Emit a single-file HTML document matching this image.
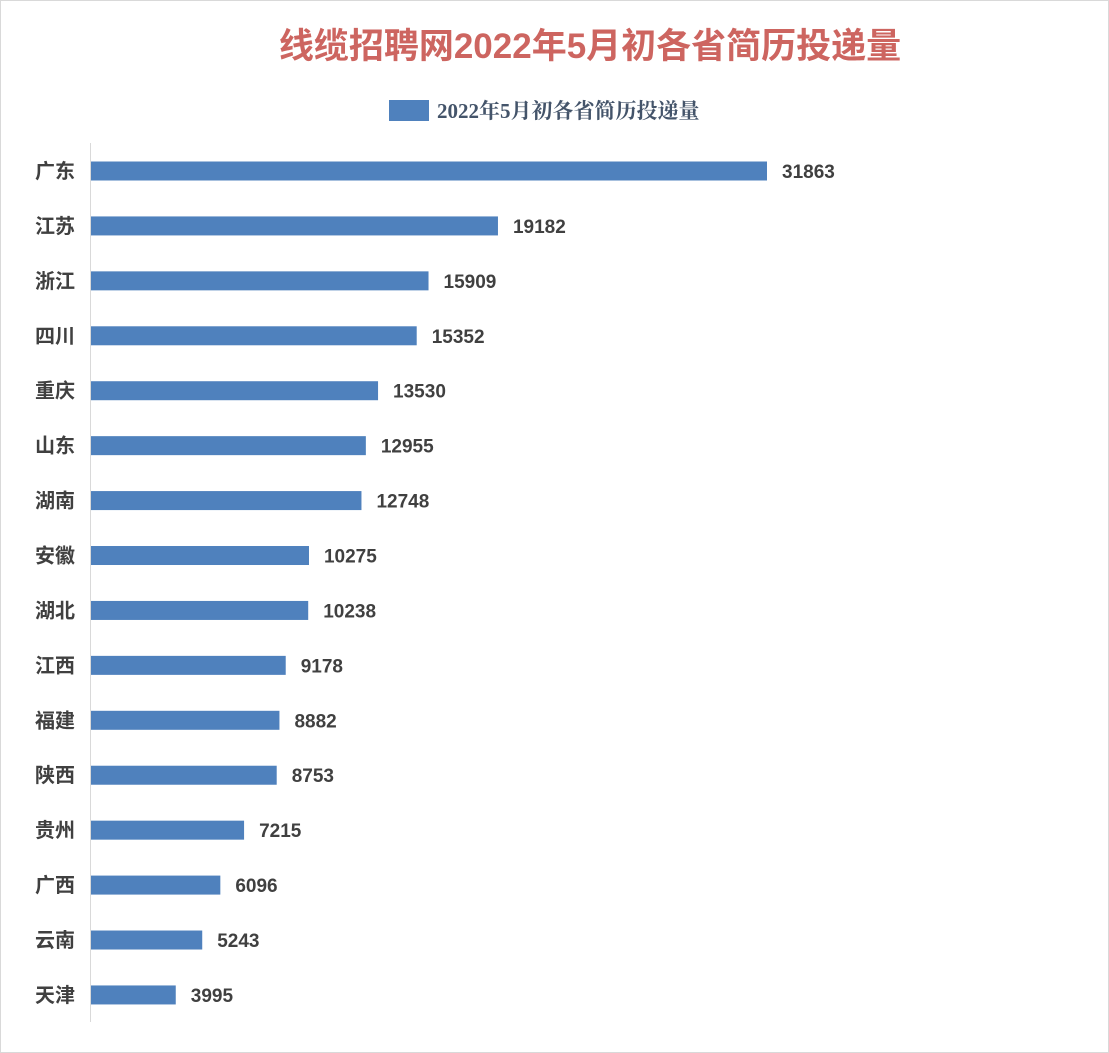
<!DOCTYPE html>
<html><head><meta charset="utf-8">
<style>
body{margin:0;background:#fff;}
#wrap{position:relative;width:1109px;height:1053px;overflow:hidden;background:#fff;}
#frame{position:absolute;left:0;top:0;width:1107px;height:1051px;border:1px solid #d9d9d9;}
#title{position:absolute;left:0;width:1180px;top:18px;text-align:center;font:bold 35px "Liberation Sans","Noto Sans CJK SC",sans-serif;color:#cd6560;}
#legend{position:absolute;left:389px;top:97px;height:26px;display:flex;align-items:center;}
#legend .sw{width:40px;height:21px;background:#4f81bd;margin-right:8px;}
#legend .tx{font:bold 21px "Liberation Serif","Noto Serif CJK SC",serif;color:#44546a;}
</style></head><body>
<div id="wrap">
<div id="frame"></div>
<div id="title">线缆招聘网2022年5月初各省简历投递量</div>
<div id="legend"><div class="sw"></div><div class="tx">2022年5月初各省简历投递量</div></div>
<svg id="plot" width="1109" height="1053" style="position:absolute;left:0;top:0"></svg>
</div>
<script>
const categories=["广东","江苏","浙江","四川","重庆","山东","湖南","安徽","湖北","江西","福建","陕西","贵州","广西","云南","天津"];
const values=[31863,19182,15909,15352,13530,12955,12748,10275,10238,9178,8882,8753,7215,6096,5243,3995];
const NS="http://www.w3.org/2000/svg";
const svg=document.getElementById('plot');
const x0=91, pxPer=676/31863, y0=171, step=54.93, bh=19;
const xScale=v=>x0+v*pxPer;
const yScale=i=>y0+i*step;
const axis=document.createElementNS(NS,'line');


axis.setAttribute('x1',90.5);axis.setAttribute('x2',90.5);axis.setAttribute('y1',143);axis.setAttribute('y2',1022);
axis.setAttribute('stroke','#d9d9d9');axis.setAttribute('stroke-width','1');
svg.appendChild(axis);
categories.forEach((c,i)=>{
  const cy=yScale(i);
  const r=document.createElementNS(NS,'rect');
  
  
  r.setAttribute('x',x0);r.setAttribute('y',cy-bh/2);
  r.setAttribute('width',xScale(values[i])-x0);r.setAttribute('height',bh);
  r.setAttribute('fill','#4f81bd');
  svg.appendChild(r);
  const t=document.createElementNS(NS,'text');
  
  
  t.setAttribute('x',75);t.setAttribute('y',cy+7);t.setAttribute('text-anchor','end');
  t.setAttribute('style','font:bold 20px "Liberation Sans","Noto Sans CJK SC",sans-serif;fill:#404040');
  t.textContent=c;svg.appendChild(t);
  const v=document.createElementNS(NS,'text');
  
  
  v.setAttribute('x',xScale(values[i])+15);v.setAttribute('y',cy+7);
  v.setAttribute('style','font:bold 19px "Liberation Sans",sans-serif;fill:#404040');
  v.textContent=values[i];svg.appendChild(v);
});
</script>
</body></html>
